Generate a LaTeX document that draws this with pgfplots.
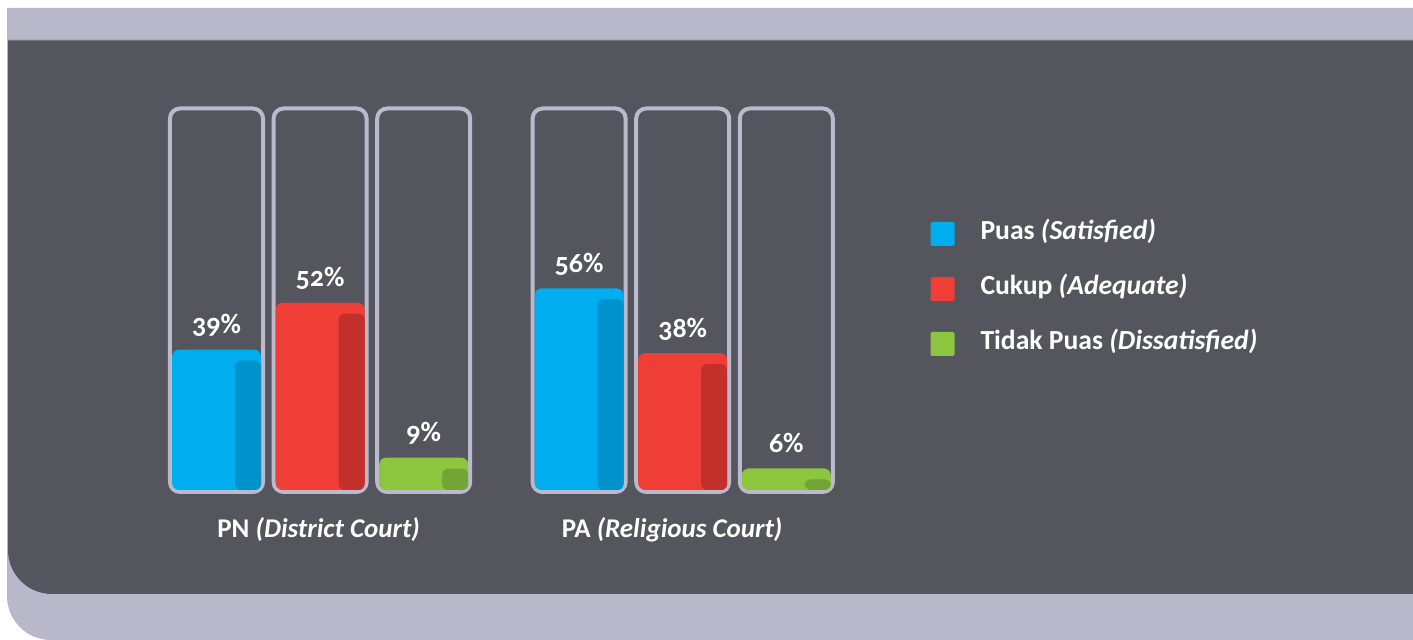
\documentclass[border=0pt]{standalone}
\usepackage{pgfplots}
\pgfplotsset{compat=1.18}
\usepackage{pgfplotstable}
\usepackage{fontspec}
\setmainfont{Carlito}[Numbers=OldStyle]
\definecolor{lav}{HTML}{B9B8CA}
\definecolor{lavline}{HTML}{BBBACC}
\definecolor{panel}{HTML}{55555E}
\definecolor{cblue}{HTML}{00AEEF}
\definecolor{cbluedk}{HTML}{0093CB}
\definecolor{cred}{HTML}{EF3E36}
\definecolor{creddk}{HTML}{C32F2A}
\definecolor{cgreen}{HTML}{8CC63F}
\definecolor{cgreendk}{HTML}{72A533}
\pgfplotstableread{
x v
0 39
3.5 56
}\puas
\pgfplotstableread{
x v
1 52
4.5 38
}\cukup
\pgfplotstableread{
x v
2 9
5.5 6
}\tidak
\begin{document}
\begin{tikzpicture}
\begin{scope}[x=0.5pt,y=-0.5pt,shift={(0,-640)}]
\fill[white] (0,0) rectangle (1440,640);
\fill[lav] (1440,8) -- (7,8) [rounded corners=22pt] -- (7,640) [sharp corners] -- (1440,640) -- cycle;
\fill[panel] (1440,40) -- (8,40) [rounded corners=22pt] -- (8,594) [sharp corners] -- (1440,594) -- cycle;
\draw[color=panel!70!lav, line width=0.6pt] (8,40.5) -- (1440,40.5);
\end{scope}
\begin{axis}[
  at={(0,0)}, anchor=south west,
  scale only axis, width=706.5pt, height=320pt,
  xmin=-2.0898, xmax=11.549, ymin=-41.667, ymax=136.11,
  hide axis, clip=false,
  ybar, bar width=0.859, bar shift=0pt,
  nodes near coords={\pgfmathprintnumber[assume math mode=true]{\pgfplotspointmeta}\%},
  every node near coord/.append style={font=\bfseries\fontsize{14}{16}\selectfont, text=white, inner sep=0pt, anchor=base, yshift=8pt},
  legend image code/.code={\fill[#1, rounded corners=1pt] (0pt,-6pt) rectangle (12pt,6pt); \path (25pt,0pt);},
  legend style={at={(axis description cs:0.6540,0.6600)}, anchor=north west, draw=none, fill=none,
    text=white, font=\bfseries\fontsize{13.8}{15}\selectfont,
    nodes={inner sep=0pt, text height=9pt, text depth=3pt},
    row sep=15.5pt, column sep=0pt, legend cell align=left},
]
% containers (decoration)
\foreach \c in {0,1,2,3.5,4.5,5.5}{
  \edef\tmp{\noexpand\draw[lavline, line width=2pt, rounded corners=5pt] (axis cs:\c-0.449,-0.556) rectangle (axis cs:\c+0.449,105.97);}
  \tmp
}
\addplot[fill=cblue, draw=none, rounded corners=3.5pt] table[x=x,y=v] {\puas};
\addlegendentry{Puas \textit{(Satisfied)}}
\addplot[fill=cred, draw=none, rounded corners=3.5pt] table[x=x,y=v] {\cukup};
\addlegendentry{Cukup \textit{(Adequate)}}
\addplot[fill=cgreen, draw=none, rounded corners=3.5pt] table[x=x,y=v] {\tidak};
\addlegendentry{Tidak Puas \textit{(Dissatisfied)}}
% darker right strips
\addplot[fill=cbluedk, draw=none, rounded corners=3pt, bar width=0.251, bar shift=0.304, nodes near coords={}, forget plot] table[x=x,y expr=\thisrow{v}-3.06] {\puas};
\addplot[fill=creddk, draw=none, rounded corners=3pt, bar width=0.251, bar shift=0.304, nodes near coords={}, forget plot] table[x=x,y expr=\thisrow{v}-3.06] {\cukup};
\addplot[fill=cgreendk, draw=none, rounded corners=3pt, bar width=0.251, bar shift=0.304, nodes near coords={}, forget plot] table[x=x,y expr=\thisrow{v}-3.06] {\tidak};
\node[text=white, font=\bfseries\fontsize{13.5}{15}\selectfont, anchor=base] at (axis cs:0.985,-13.06) {PN \textit{(District Court)}};
\node[text=white, font=\bfseries\fontsize{13.5}{15}\selectfont, anchor=base] at (axis cs:4.397,-13.06) {PA \textit{(Religious Court)}};
\end{axis}
\pgfresetboundingbox
\useasboundingbox (0,0) rectangle (706.5pt,320pt);
\end{tikzpicture}
\end{document}
